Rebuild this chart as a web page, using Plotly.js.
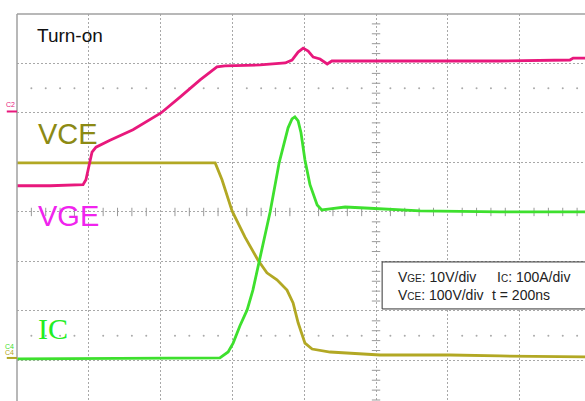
<!DOCTYPE html>
<html><head><meta charset="utf-8">
<script src="https://cdn.plot.ly/plotly-3.0.1.min.js"></script>
<style>html,body{margin:0;padding:0;background:#fff}#chart{width:585px;height:401px}</style>
</head><body><div id="chart"></div>
<script>
// time in ns (200 ns/div), vertical in screen divisions
var vgeT = [0, 92, 184, 192, 201, 209, 220, 259, 323, 401, 454, 510, 557, 579, 677, 747, 766, 783, 797, 811, 825, 844, 864, 877, 928, 1067, 1206, 1345, 1540, 1549, 1582];
var vgeV = [0.53, 0.53, 0.55, 0.65, 0.95, 1.21, 1.31, 1.45, 1.66, 2.0, 2.32, 2.67, 2.93, 2.95, 2.97, 3.01, 3.07, 3.23, 3.31, 3.25, 3.13, 3.09, 2.99, 3.05, 3.05, 3.05, 3.05, 3.05, 3.07, 3.11, 3.11];

var vceT = [0, 552, 571, 599, 635, 671, 696, 724, 752, 769, 783, 802, 822, 872, 1011, 1206, 1345, 1582];
var vceV = [0.99, 0.99, 0.65, 0.02, -0.51, -0.97, -1.23, -1.37, -1.58, -1.84, -2.24, -2.65, -2.77, -2.83, -2.89, -2.89, -2.91, -2.93];

var icT = [0, 565, 588, 602, 621, 641, 657, 674, 705, 730, 744, 755, 766, 774, 783, 791, 802, 816, 836, 849, 872, 914, 969, 1011, 1123, 1345, 1582];
var icV = [-2.97, -2.95, -2.83, -2.65, -2.30, -1.98, -1.58, -1.01, 0, 0.99, 1.39, 1.70, 1.88, 1.92, 1.84, 1.60, 1.05, 0.55, 0.14, 0.04, 0.06, 0.10, 0.08, 0.06, 0.02, 0, 0];

var scaleLines = ["V<span style=\"font-size:10px\">GE</span>: 10V/div", "I<span style=\"font-size:10px\">C</span>: 100A/div", "V<span style=\"font-size:10px\">CE</span>: 100V/div", "t = 200ns"];

// graticule minor marks (structure, not data)
var tickHX = [], tickHY = [], tickVX = [], tickVY = [], dotX = [], dotY = [];
for (var i = 0; i <= 40; i++) { var t = i * 40; if (t % 200 !== 0) { tickHX.push(t); tickHY.push(0); dotX.push(t, t); dotY.push(2.5, -2.5); } }
for (var j = -20; j <= 20; j++) { var y = j * 0.2; if (Math.abs(y - Math.round(y)) > 0.01) { tickVX.push(1000); tickVY.push(y); } }

var traces = [
  {x: dotX, y: dotY, mode: 'markers', marker: {symbol: 'circle', size: 2, color: '#aaaaaa'}, hoverinfo: 'skip'},
  {x: tickHX, y: tickHY, mode: 'markers', marker: {symbol: 'line-ns', size: 6, line: {width: 1, color: '#999999'}}, hoverinfo: 'skip'},
  {x: tickVX, y: tickVY, mode: 'markers', marker: {symbol: 'line-ew', size: 6, line: {width: 1, color: '#999999'}}, hoverinfo: 'skip'},
  {x: vceT, y: vceV, mode: 'lines', line: {color: '#b2a824', width: 2.8}, name: 'VCE'},
  {x: icT, y: icV, mode: 'lines', line: {color: '#3ee02e', width: 2.8}, name: 'IC'},
  {x: vgeT, y: vgeV, mode: 'lines', line: {color: '#e8187c', width: 2.8}, name: 'VGE'}
];

var grid = {showgrid: true, gridcolor: '#a8a8a8', gridwidth: 1, griddash: '2px,2px', zeroline: false, showticklabels: false, ticks: '', showline: false, fixedrange: true};

var layout = {
  width: 585, height: 401,
  margin: {l: 17, r: 0, t: 14, b: 0},
  paper_bgcolor: '#ffffff', plot_bgcolor: '#ffffff',
  showlegend: false,
  font: {family: 'Liberation Sans, Arial, sans-serif'},
  xaxis: Object.assign({range: [0, 1582], dtick: 200, tick0: 0}, grid),
  yaxis: Object.assign({range: [-3.82, 4], dtick: 1, tick0: 0}, grid),
  shapes: [
    {type: 'line', xref: 'paper', yref: 'paper', x0: 0, x1: 1, y0: 1, y1: 1, line: {color: '#a0a0a0', width: 1.5}},
    {type: 'line', xref: 'paper', yref: 'paper', x0: 0, x1: 0, y0: 0, y1: 1, line: {color: '#a0a0a0', width: 1.5}},
    {type: 'rect', xref: 'x', yref: 'y', x0: 1017, x1: 1700, y0: -1.96, y1: -1.01, line: {color: '#333333', width: 1}, fillcolor: '#ffffff', layer: 'above'},
    {type: 'line', xref: 'paper', yref: 'y', x0: -0.018, x1: 0, y0: 2.03, y1: 2.03, line: {color: '#e8187c', width: 2}},
    {type: 'line', xref: 'paper', yref: 'y', x0: -0.018, x1: 0, y0: -2.95, y1: -2.95, line: {color: '#b2a824', width: 2}}
  ],
  annotations: [
    {x: 50, y: 3.56, xref: 'x', yref: 'y', xanchor: 'left', yanchor: 'middle', text: 'Turn-on', showarrow: false, font: {size: 19, color: '#111111'}},
    {x: 52, y: 1.57, xref: 'x', yref: 'y', xanchor: 'left', yanchor: 'middle', text: 'VCE', showarrow: false, font: {size: 29, color: '#8c8a14'}},
    {x: 52, y: -0.08, xref: 'x', yref: 'y', xanchor: 'left', yanchor: 'middle', text: 'VGE', showarrow: false, font: {size: 29, color: '#f024ee'}},
    {x: 52, y: -2.36, xref: 'x', yref: 'y', xanchor: 'left', yanchor: 'middle', text: 'IC', showarrow: false, font: {size: 30, color: '#22ee22', family: 'Liberation Serif, serif'}},
    {x: 1056, y: -1.31, xref: 'x', yref: 'y', xanchor: 'left', yanchor: 'middle', text: scaleLines[0], showarrow: false, font: {size: 14, color: '#222222'}},
    {x: 1331, y: -1.31, xref: 'x', yref: 'y', xanchor: 'left', yanchor: 'middle', text: scaleLines[1], showarrow: false, font: {size: 14, color: '#222222'}},
    {x: 1056, y: -1.68, xref: 'x', yref: 'y', xanchor: 'left', yanchor: 'middle', text: scaleLines[2], showarrow: false, font: {size: 14, color: '#222222'}},
    {x: 1318, y: -1.68, xref: 'x', yref: 'y', xanchor: 'left', yanchor: 'middle', text: scaleLines[3], showarrow: false, font: {size: 14, color: '#222222'}},
    {x: -0.012, y: 2.18, xref: 'paper', yref: 'y', xanchor: 'center', yanchor: 'middle', text: 'C2', textangle: 0, showarrow: false, font: {size: 7, color: '#e8187c'}},
    {x: -0.014, y: -2.72, xref: 'paper', yref: 'y', xanchor: 'center', yanchor: 'middle', text: 'C4', showarrow: false, font: {size: 7, color: '#3ee02e'}},
    {x: -0.014, y: -2.84, xref: 'paper', yref: 'y', xanchor: 'center', yanchor: 'middle', text: 'C4', showarrow: false, font: {size: 7, color: '#b2a824'}}
  ]
};

Plotly.newPlot('chart', traces, layout, {displayModeBar: false, staticPlot: true});
</script>
</body></html>
